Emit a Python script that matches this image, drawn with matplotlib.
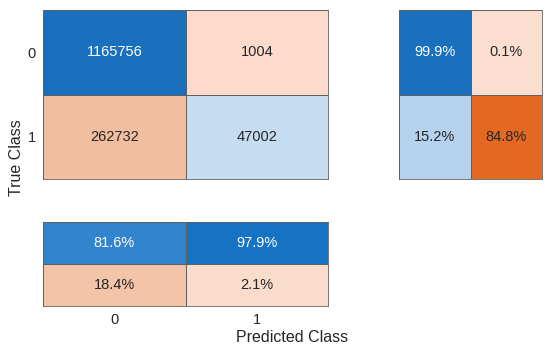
"""Confusion chart in the MATLAB confusionchart layout: counts, row summary
(right) and column summary (bottom)."""
import matplotlib.pyplot as plt
import numpy as np
from matplotlib.colors import ListedColormap, to_rgb

plt.rcParams["font.family"] = ["Liberation Sans", "DejaVu Sans"]

classes = ["0", "1"]
counts = [[1165756, 1004], [262732, 47002]]
row_pct = [[99.9, 0.1], [15.2, 84.8]]
col_pct = [[81.6, 97.9], [18.4, 2.1]]

count_colors = [["#1A6FBF", "#FDDACC"], ["#F2BEA0", "#C6DCF0"]]
row_colors = [["#1A6FBF", "#FCDED0"], ["#B6D2EE", "#E36822"]]
col_colors = [["#3284CD", "#1672C3"], ["#F3C4A8", "#F9DCCC"]]

INK = "#262626"
EDGE = "#5f5f5f"
W, H = 550, 351


def _axes(fig, x0, y0, x1, y1):
    # pixel box (top-left origin) -> figure fraction
    return fig.add_axes([x0 / W, 1 - y1 / H, (x1 - x0) / W, (y1 - y0) / H])


def _cells(ax, labels, colors):
    colors = np.asarray(colors)
    nr, nc = colors.shape
    idx = np.arange(nr * nc).reshape(nr, nc)
    cmap = ListedColormap(list(colors.ravel()))
    ax.pcolormesh(idx, cmap=cmap, vmin=-0.5, vmax=nr * nc - 0.5,
                  edgecolors=EDGE, linewidth=0.6)
    for i in range(nr):
        for j in range(nc):
            r, g, b = to_rgb(colors[i, j])
            lum = 0.299 * r + 0.587 * g + 0.114 * b
            tc = "white" if lum < 0.55 and b > r else INK
            ax.text(j + 0.5, i + 0.5, labels[i][j], ha="center", va="center",
                    color=tc, fontsize=10.5)
    ax.set_xlim(0, nc)
    ax.set_ylim(nr, 0)
    for s in ax.spines.values():
        s.set_color(EDGE)
        s.set_linewidth(0.6)
    ax.tick_params(length=0, colors=INK, labelsize=10.5, pad=5)
    ax.set_xticks([])
    ax.set_yticks([])


fig = plt.figure(figsize=(W / 100, H / 100), dpi=100)
fig.patch.set_facecolor("white")

ax_main = _axes(fig, 43, 10, 328, 179)
_cells(ax_main, [[str(v) for v in row] for row in counts], count_colors)
ax_main.set_yticks(np.arange(len(classes)) + 0.5)
ax_main.set_yticklabels(classes)

ax_row = _axes(fig, 399, 10, 542, 179)
_cells(ax_row, [[f"{v:.1f}%" for v in row] for row in row_pct], row_colors)

ax_col = _axes(fig, 43, 222, 328, 306)
_cells(ax_col, [[f"{v:.1f}%" for v in row] for row in col_pct], col_colors)
ax_col.set_xticks(np.arange(len(classes)) + 0.5)
ax_col.set_xticklabels(classes)

fig.text(17 / W, 1 - 158 / H, "True Class", rotation=90, ha="center",
         va="center", fontsize=11.5, color=INK)
fig.text(292 / W, 1 - 337 / H, "Predicted Class", ha="center", va="center",
         fontsize=11.5, color=INK)

fig.savefig("out.png", dpi=100, facecolor=fig.get_facecolor())
